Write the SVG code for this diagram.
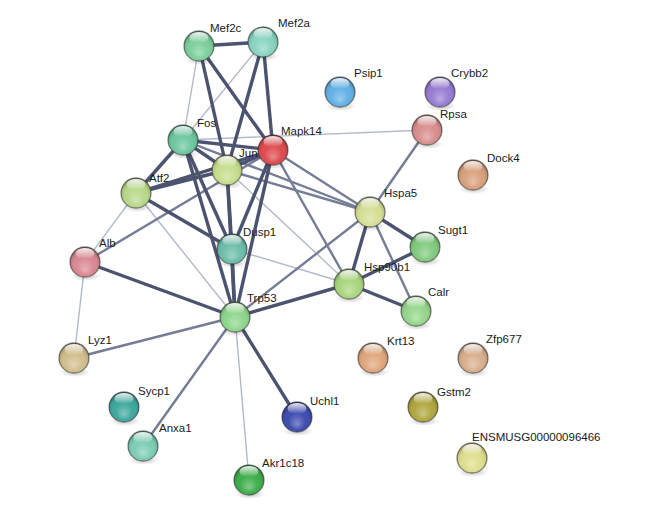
<svg xmlns="http://www.w3.org/2000/svg" width="651" height="508" viewBox="0 0 651 508">
<style>
.e1{stroke:#b3b9c9;stroke-width:1.4;fill:none}
.e2{stroke:#747c96;stroke-width:2.4;fill:none}
.e3{stroke:#4b536f;stroke-width:3.4;fill:none}
.ball{stroke:#333333;stroke-opacity:0.55;stroke-width:1.3}
.lbl{font-family:"Liberation Sans",Arial,sans-serif;font-size:11.5px;fill:#1a1a1a}
</style>
<defs>
<radialGradient id="gloss" cx="50%" cy="55%" r="55%" fx="50%" fy="75%">
<stop offset="0" stop-color="#ffffff" stop-opacity="0.35"/>
<stop offset="0.55" stop-color="#ffffff" stop-opacity="0"/>
<stop offset="0.85" stop-color="#000000" stop-opacity="0.1"/>
<stop offset="1" stop-color="#000000" stop-opacity="0.4"/>
</radialGradient>
<linearGradient id="spec" x1="0" y1="0" x2="0" y2="1">
<stop offset="0" stop-color="#ffffff" stop-opacity="0.9"/>
<stop offset="1" stop-color="#ffffff" stop-opacity="0"/>
</linearGradient>
<radialGradient id="shad" cx="50%" cy="50%" r="50%">
<stop offset="0" stop-color="#000" stop-opacity="0.25"/>
<stop offset="1" stop-color="#000" stop-opacity="0"/>
</radialGradient>
<symbol id="node" overflow="visible">
<ellipse cx="1" cy="14" rx="15" ry="5" fill="url(#shad)"/>
</symbol>
<g id="sheen">
<circle r="15" fill="url(#gloss)"/>
<ellipse cx="0" cy="-8.5" rx="9.5" ry="5.5" fill="url(#spec)"/>
</g>
</defs>
<rect width="651" height="508" fill="#ffffff"/>
<g id="edges">
<line class="e1" x1="199" y1="46" x2="183" y2="140"/>
<line class="e1" x1="263" y1="42" x2="183" y2="140"/>
<line class="e1" x1="183" y1="140" x2="427" y2="130"/>
<line class="e1" x1="227" y1="170" x2="349" y2="284"/>
<line class="e1" x1="136" y1="193" x2="235" y2="317"/>
<line class="e1" x1="136" y1="193" x2="85" y2="262"/>
<line class="e1" x1="85" y1="262" x2="74" y2="358"/>
<line class="e1" x1="232" y1="249" x2="349" y2="284"/>
<line class="e1" x1="235" y1="317" x2="249" y2="480"/>
<line class="e2" x1="183" y1="140" x2="370" y2="212"/>
<line class="e2" x1="227" y1="170" x2="370" y2="212"/>
<line class="e2" x1="273" y1="150" x2="370" y2="212"/>
<line class="e2" x1="273" y1="150" x2="349" y2="284"/>
<line class="e2" x1="85" y1="262" x2="273" y2="150"/>
<line class="e2" x1="74" y1="358" x2="235" y2="317"/>
<line class="e2" x1="235" y1="317" x2="370" y2="212"/>
<line class="e2" x1="235" y1="317" x2="143" y2="446"/>
<line class="e2" x1="370" y1="212" x2="427" y2="130"/>
<line class="e2" x1="370" y1="212" x2="416" y2="311"/>
<line class="e3" x1="199" y1="46" x2="263" y2="42"/>
<line class="e3" x1="199" y1="46" x2="227" y2="170"/>
<line class="e3" x1="199" y1="46" x2="273" y2="150"/>
<line class="e3" x1="263" y1="42" x2="227" y2="170"/>
<line class="e3" x1="263" y1="42" x2="273" y2="150"/>
<line class="e3" x1="183" y1="140" x2="227" y2="170"/>
<line class="e3" x1="183" y1="140" x2="273" y2="150"/>
<line class="e3" x1="183" y1="140" x2="136" y2="193"/>
<line class="e3" x1="183" y1="140" x2="232" y2="249"/>
<line class="e3" x1="183" y1="140" x2="235" y2="317"/>
<line class="e3" x1="227" y1="170" x2="273" y2="150"/>
<line class="e3" x1="227" y1="170" x2="136" y2="193"/>
<line class="e3" x1="136" y1="193" x2="273" y2="150"/>
<line class="e3" x1="227" y1="170" x2="232" y2="249"/>
<line class="e3" x1="227" y1="170" x2="235" y2="317"/>
<line class="e3" x1="273" y1="150" x2="232" y2="249"/>
<line class="e3" x1="273" y1="150" x2="235" y2="317"/>
<line class="e3" x1="136" y1="193" x2="232" y2="249"/>
<line class="e3" x1="85" y1="262" x2="235" y2="317"/>
<line class="e3" x1="232" y1="249" x2="235" y2="317"/>
<line class="e3" x1="235" y1="317" x2="349" y2="284"/>
<line class="e3" x1="235" y1="317" x2="297" y2="417"/>
<line class="e3" x1="370" y1="212" x2="425" y2="247"/>
<line class="e3" x1="370" y1="212" x2="349" y2="284"/>
<line class="e3" x1="349" y1="284" x2="425" y2="247"/>
<line class="e3" x1="349" y1="284" x2="416" y2="311"/>
</g>
<g id="nodes">
<g id="n-Mef2c"><use href="#node" x="199" y="46"/><circle class="ball" cx="199" cy="46" r="15" fill="#7ccf9c"/><use href="#sheen" x="199" y="46"/><text class="lbl" x="210" y="32">Mef2c</text></g>
<g id="n-Mef2a"><use href="#node" x="263" y="42"/><circle class="ball" cx="263" cy="42" r="15" fill="#88d4c0"/><use href="#sheen" x="263" y="42"/><text class="lbl" x="278" y="27">Mef2a</text></g>
<g id="n-Psip1"><use href="#node" x="340" y="92"/><circle class="ball" cx="340" cy="92" r="15" fill="#62b0e6"/><use href="#sheen" x="340" y="92"/><text class="lbl" x="354" y="77">Psip1</text></g>
<g id="n-Crybb2"><use href="#node" x="440" y="92"/><circle class="ball" cx="440" cy="92" r="15" fill="#977cd2"/><use href="#sheen" x="440" y="92"/><text class="lbl" x="451" y="77">Crybb2</text></g>
<g id="n-Fos"><use href="#node" x="183" y="140"/><circle class="ball" cx="183" cy="140" r="15" fill="#6cc69e"/><use href="#sheen" x="183" y="140"/><text class="lbl" x="197" y="127">Fos</text></g>
<g id="n-Mapk14"><use href="#node" x="273" y="150"/><circle class="ball" cx="273" cy="150" r="15" fill="#de4a4e"/><use href="#sheen" x="273" y="150"/><text class="lbl" x="281" y="135">Mapk14</text></g>
<g id="n-Rpsa"><use href="#node" x="427" y="130"/><circle class="ball" cx="427" cy="130" r="15" fill="#d88e8c"/><use href="#sheen" x="427" y="130"/><text class="lbl" x="440" y="118">Rpsa</text></g>
<g id="n-Jun"><use href="#node" x="227" y="170"/><circle class="ball" cx="227" cy="170" r="15" fill="#c6de8c"/><use href="#sheen" x="227" y="170"/><text class="lbl" x="239" y="157">Jun</text></g>
<g id="n-Dock4"><use href="#node" x="473" y="175"/><circle class="ball" cx="473" cy="175" r="15" fill="#d8a07c"/><use href="#sheen" x="473" y="175"/><text class="lbl" x="487" y="162">Dock4</text></g>
<g id="n-Atf2"><use href="#node" x="136" y="193"/><circle class="ball" cx="136" cy="193" r="15" fill="#b8d88a"/><use href="#sheen" x="136" y="193"/><text class="lbl" x="149" y="182">Atf2</text></g>
<g id="n-Hspa5"><use href="#node" x="370" y="212"/><circle class="ball" cx="370" cy="212" r="15" fill="#d6de94"/><use href="#sheen" x="370" y="212"/><text class="lbl" x="384" y="197">Hspa5</text></g>
<g id="n-Sugt1"><use href="#node" x="425" y="247"/><circle class="ball" cx="425" cy="247" r="15" fill="#80ca7e"/><use href="#sheen" x="425" y="247"/><text class="lbl" x="438" y="234">Sugt1</text></g>
<g id="n-Dusp1"><use href="#node" x="232" y="249"/><circle class="ball" cx="232" cy="249" r="15" fill="#6dbdaa"/><use href="#sheen" x="232" y="249"/><text class="lbl" x="243" y="236">Dusp1</text></g>
<g id="n-Alb"><use href="#node" x="85" y="262"/><circle class="ball" cx="85" cy="262" r="15" fill="#d98890"/><use href="#sheen" x="85" y="262"/><text class="lbl" x="99" y="247">Alb</text></g>
<g id="n-Hsp90b1"><use href="#node" x="349" y="284"/><circle class="ball" cx="349" cy="284" r="15" fill="#a8d67e"/><use href="#sheen" x="349" y="284"/><text class="lbl" x="364" y="271">Hsp90b1</text></g>
<g id="n-Calr"><use href="#node" x="416" y="311"/><circle class="ball" cx="416" cy="311" r="15" fill="#96d68c"/><use href="#sheen" x="416" y="311"/><text class="lbl" x="428" y="296">Calr</text></g>
<g id="n-Trp53"><use href="#node" x="235" y="317"/><circle class="ball" cx="235" cy="317" r="15" fill="#8ed68c"/><use href="#sheen" x="235" y="317"/><text class="lbl" x="247" y="302">Trp53</text></g>
<g id="n-Lyz1"><use href="#node" x="74" y="358"/><circle class="ball" cx="74" cy="358" r="15" fill="#d2be8c"/><use href="#sheen" x="74" y="358"/><text class="lbl" x="88" y="344">Lyz1</text></g>
<g id="n-Krt13"><use href="#node" x="373" y="358"/><circle class="ball" cx="373" cy="358" r="15" fill="#e0a67c"/><use href="#sheen" x="373" y="358"/><text class="lbl" x="387" y="345">Krt13</text></g>
<g id="n-Zfp677"><use href="#node" x="473" y="358"/><circle class="ball" cx="473" cy="358" r="15" fill="#d8ae8c"/><use href="#sheen" x="473" y="358"/><text class="lbl" x="486" y="343">Zfp677</text></g>
<g id="n-Sycp1"><use href="#node" x="124" y="407"/><circle class="ball" cx="124" cy="407" r="15" fill="#3ea89e"/><use href="#sheen" x="124" y="407"/><text class="lbl" x="138" y="395">Sycp1</text></g>
<g id="n-Uchl1"><use href="#node" x="297" y="417"/><circle class="ball" cx="297" cy="417" r="15" fill="#3e4cb0"/><use href="#sheen" x="297" y="417"/><text class="lbl" x="310" y="405">Uchl1</text></g>
<g id="n-Gstm2"><use href="#node" x="423" y="407"/><circle class="ball" cx="423" cy="407" r="15" fill="#b0a63e"/><use href="#sheen" x="423" y="407"/><text class="lbl" x="437" y="396">Gstm2</text></g>
<g id="n-Anxa1"><use href="#node" x="143" y="446"/><circle class="ball" cx="143" cy="446" r="15" fill="#7ccdb4"/><use href="#sheen" x="143" y="446"/><text class="lbl" x="159" y="432">Anxa1</text></g>
<g id="n-ENSMUSG00000096466"><use href="#node" x="472" y="458"/><circle class="ball" cx="472" cy="458" r="15" fill="#dede8e"/><use href="#sheen" x="472" y="458"/><text class="lbl" x="472" y="441">ENSMUSG00000096466</text></g>
<g id="n-Akr1c18"><use href="#node" x="249" y="480"/><circle class="ball" cx="249" cy="480" r="15" fill="#3eae4c"/><use href="#sheen" x="249" y="480"/><text class="lbl" x="262" y="467">Akr1c18</text></g>
</g>
</svg>
